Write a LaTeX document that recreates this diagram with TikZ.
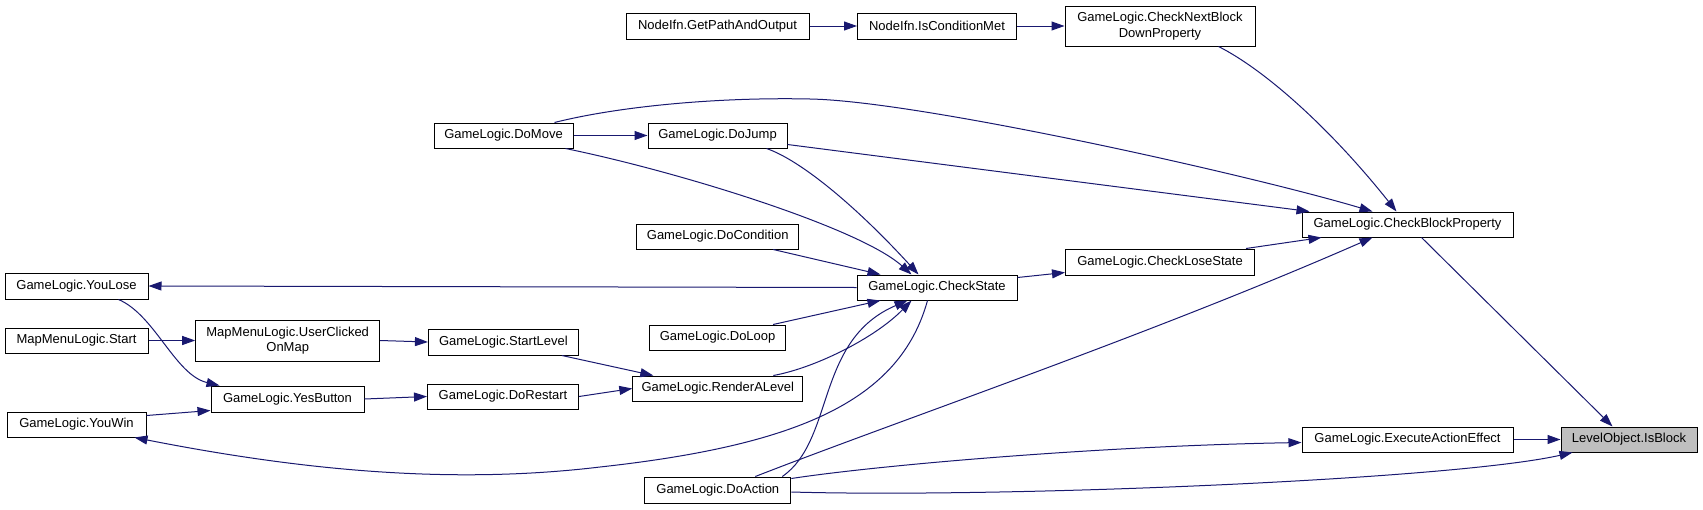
\documentclass[tikz,border=0pt]{standalone}
\usepackage{fontspec}
\setmainfont{Liberation Sans}
\usetikzlibrary{arrows.meta,calc}
\definecolor{edgeblue}{HTML}{191970}
\definecolor{hilite}{HTML}{BFBFBF}
\begin{document}
\begin{tikzpicture}[x=1pt,y=-1pt,
  box/.style={draw=black, line width=1pt, inner sep=0pt, align=center, fill=white,
    font=\fontsize{13}{15.5}\selectfont},
  sz/.style 2 args={minimum width=#1pt, minimum height=#2pt},
  edge/.style={draw=edgeblue, line width=1pt, -{Triangle[length=13pt,width=9pt]}}]
\useasboundingbox[fill=white] (0,0) rectangle (1703,509);

% nodes
\node[box, sz={183}{26}] (gpo) at (717.5,26) {NodeIfn.GetPathAndOutput};
\node[box, sz={159}{26}] (icm) at (937,26) {NodeIfn.IsConditionMet};
\node[box, sz={190}{40}] (cnb) at (1160,26) {GameLogic.CheckNextBlock\\DownProperty};
\node[box, sz={139}{25}] (domove) at (503.5,135.5) {GameLogic.DoMove};
\node[box, sz={139}{25}] (dojump) at (717.5,135.5) {GameLogic.DoJump};
\node[box, sz={162}{25}] (docond) at (717.7,236.5) {GameLogic.DoCondition};
\node[box, sz={189}{26}] (cls) at (1160,262) {GameLogic.CheckLoseState};
\node[box, sz={160}{25}] (cs) at (937,287.5) {GameLogic.CheckState};
\node[box, sz={143}{26}] (youlose) at (76.5,286) {GameLogic.YouLose};
\node[box, sz={143}{25}] (mstart) at (76.5,340.5) {MapMenuLogic.Start};
\node[box, sz={184}{41}] (ucom) at (287.7,340.5) {MapMenuLogic.UserClicked\\OnMap};
\node[box, sz={150}{26}] (startlevel) at (503.4,342) {GameLogic.StartLevel};
\node[box, sz={153}{26}] (yes) at (287.5,399) {GameLogic.YesButton};
\node[box, sz={151}{25}] (restart) at (503,396.5) {GameLogic.DoRestart};
\node[box, sz={139}{25}] (youwin) at (76.5,424.5) {GameLogic.YouWin};
\node[box, sz={136}{25}] (doloop) at (717.6,337.5) {GameLogic.DoLoop};
\node[box, sz={170}{25}] (render) at (717.8,388.5) {GameLogic.RenderALevel};
\node[box, sz={146}{26}] (doaction) at (717.8,490) {GameLogic.DoAction};
\node[box, sz={211}{25}] (cbp) at (1407.5,224.5) {GameLogic.CheckBlockProperty};
\node[box, sz={211}{25}] (eae) at (1407.5,439.5) {GameLogic.ExecuteActionEffect};
\node[box, sz={136}{25}, fill=hilite] (isblock) at (1629,439.5) {LevelObject.IsBlock};

% edges
\draw[edge] (gpo.east) -- (icm.west);
\draw[edge] (icm.east) -- (cnb.west);
\draw[edge] ($(cnb.south west)+(154,0)$) .. controls (1265,70) and (1330,128) .. ($(cbp.north west)+(95,0)$);
\draw[edge] ($(domove.north west)+(121,0)$) .. controls (620,106) and (720,97) .. (810,99)
   .. controls (920,101) and (1250,175) .. ($(cbp.north west)+(71,0)$);
\draw[edge] (domove.east) -- (dojump.west);
\draw[edge] ($(dojump.south east)+(0,-4)$) -- ($(cbp.north west)+(8,0)$);
\draw[edge] ($(dojump.south west)+(119,0)$) .. controls (800,160) and (855,205) .. ($(cs.north west)+(62,0)$);
\draw[edge] ($(domove.south west)+(132,0)$) .. controls (680,172) and (860,228) .. ($(cs.north west)+(55,0)$);
\draw[edge] ($(docond.south west)+(137,0)$) -- ($(cs.north west)+(24,0)$);
\draw[edge] ($(cs.north east)+(0,3)$) -- ($(cls.south west)+(0,-3)$);
\draw[edge] ($(cls.north east)+(-9,0)$) -- ($(cbp.south west)+(20,0)$);
\draw[edge] (cs.west) -- (youlose.east);
\draw[edge] ($(doloop.north west)+(124,0)$) -- ($(cs.south west)+(24,0)$);
\draw[edge] ($(render.north west)+(141,0)$) .. controls (815,368) and (875,338) .. ($(cs.south west)+(55,0)$);
\draw[edge] ($(doaction.north west)+(138,0)$) .. controls (835,440) and (815,340) .. ($(cs.south west)+(51,0)$);
\draw[edge] ($(cs.south west)+(71,0)$) .. controls (900,400) and (800,445) .. (600,467)
   .. controls (450,485) and (300,470) .. ($(youwin.south east)+(-12,0)$);
\draw[edge] ($(doaction.north west)+(111,0)$) .. controls (900,420) and (1150,335) .. ($(cbp.south west)+(71,0)$);
\draw[edge] ($(doaction.north east)+(0,2)$) .. controls (880,465) and (1100,446) .. ($(eae.west)+(0,3)$);
\draw[edge] ($(doaction.east)+(0,2)$) .. controls (1000,498) and (1450,480) .. ($(isblock.south west)+(12,0)$);
\draw[edge] (eae.east) -- (isblock.west);
\draw[edge] ($(cbp.south west)+(120,0)$) -- ($(isblock.north west)+(52,0)$);
\draw[edge] (mstart.east) -- (ucom.west);
\draw[edge] (ucom.east) -- (startlevel.west);
\draw[edge] ($(startlevel.south west)+(134,0)$) -- ($(render.north west)+(21,0)$);
\draw[edge] (restart.east) -- (render.west);
\draw[edge] ($(youlose.south west)+(114,0)$) .. controls (155,315) and (175,375) .. ($(yes.north west)+(9,0)$);
\draw[edge] ($(youwin.north east)+(0,4)$) -- ($(yes.south west)+(0,-2)$);
\draw[edge] (yes.east) -- (restart.west);
\end{tikzpicture}
\end{document}
